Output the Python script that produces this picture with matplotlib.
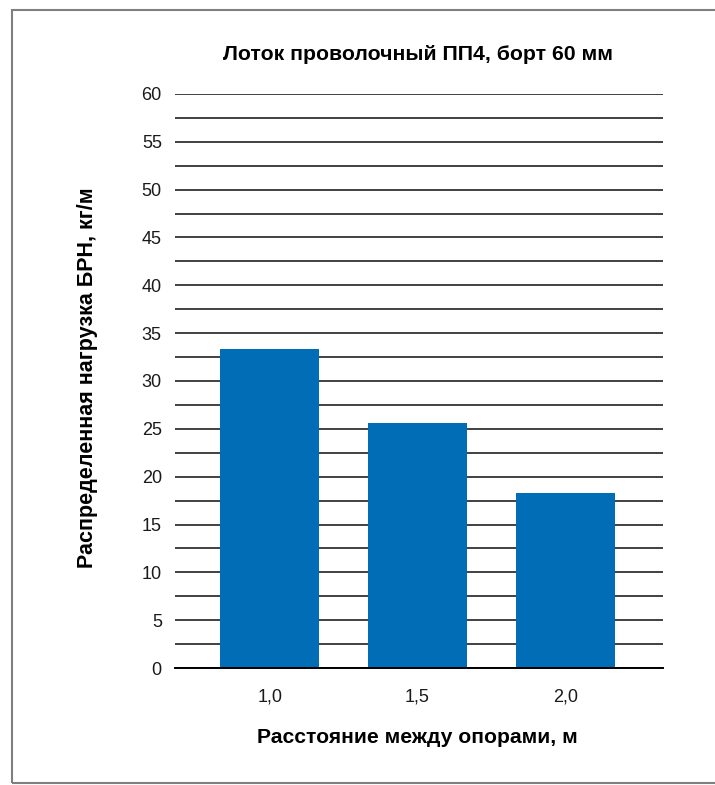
# coding:utf-8
import numpy as np
import matplotlib.pyplot as plt
from matplotlib.patches import Rectangle

# data
spans = ["1,0", "1,5", "2,0"]
loads = [33.3, 25.6, 18.3]
y_ticks = list(range(0, 61, 5))

title = "Лоток проволочный ПП4, борт 60 мм"
x_label = "Расстояние между опорами, м"
y_label = "Распределенная нагрузка БРН, кг/м"

plain = ["Liberation Sans", "DejaVu Sans"]


def __main():
    fig = plt.figure(figsize=(7.15, 7.85), dpi=100)
    ax = fig.add_axes([0.2448, 0.149, 0.6825, 0.7313])

    x = np.arange(len(spans))
    ax.bar(x, loads, width=0.67, color="#006db6", zorder=3)

    ax.set_xlim(-0.64, 2.66)
    ax.set_ylim(0, 60)
    ax.set_yticks(y_ticks)
    ax.set_yticks(np.arange(2.5, 60, 5), minor=True)
    ax.set_xticks(x)
    ax.set_xticklabels(spans)
    ax.tick_params(axis="both", which="both", length=0, labelsize=13,
                   colors="#1a1a1a")
    ax.tick_params(axis="y", pad=9.5)
    ax.tick_params(axis="x", pad=15)
    for lbl in ax.get_xticklabels() + ax.get_yticklabels():
        lbl.set_family(plain)

    ax.grid(axis="y", which="both", color="#333333", linewidth=1.3, zorder=0)
    for side in ["top", "right", "left"]:
        ax.spines[side].set_visible(False)
    ax.spines["bottom"].set_color("black")
    ax.spines["bottom"].set_linewidth(1.4)
    ax.spines["bottom"].set_zorder(4)

    fig.text(0.584, 0.930, title, ha="center", va="center", fontsize=15.3,
             fontweight="bold", family=plain)
    fig.text(0.584, 0.060, x_label, ha="center", va="center", fontsize=15.2,
             fontweight="bold", family=plain)
    fig.text(0.122, 0.519, y_label, ha="center", va="center", rotation=90,
             fontsize=15.5, fontweight="bold", family=plain)

    # outer frame
    fig.patches.append(Rectangle((12 / 715, 2 / 785), 1.0, 773 / 785,
                                 transform=fig.transFigure, fill=False,
                                 edgecolor="#7f7f7f", linewidth=1.5))

    fig.savefig("out.png", dpi=100)


if __name__ == "__main__":
    __main()
